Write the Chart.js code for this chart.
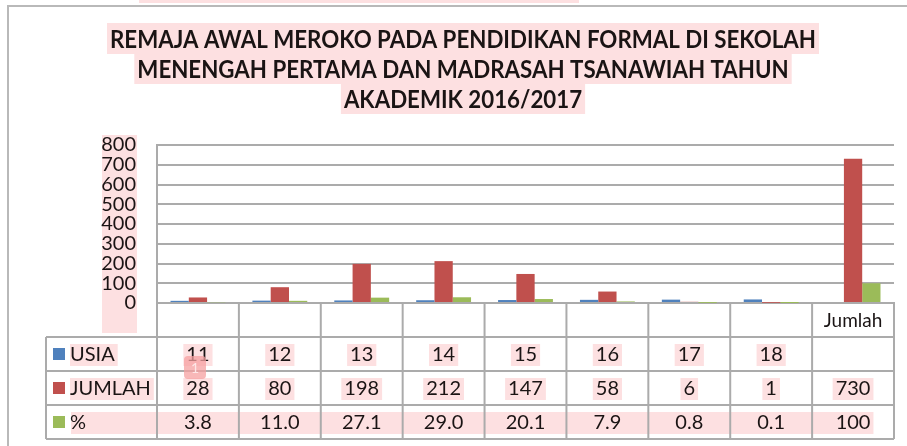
<!DOCTYPE html>
<html>
<head>
<meta charset="utf-8">
<script src="https://cdn.jsdelivr.net/npm/chart.js@4.4.1/dist/chart.umd.min.js"></script>
<style>
  html, body { margin: 0; padding: 0; background: #ffffff; }
  #wrap { width: 907px; height: 446px; position: relative; }
</style>
</head>
<body>
<div id="wrap"><canvas id="c" width="907" height="446"></canvas></div>
<script>
// ---- Data ----
const titleLines = [
  'REMAJA AWAL MEROKO PADA PENDIDIKAN FORMAL DI SEKOLAH',
  'MENENGAH PERTAMA DAN MADRASAH TSANAWIAH TAHUN',
  'AKADEMIK 2016/2017'
];
const categories = ['', '', '', '', '', '', '', '', 'Jumlah'];
const seriesNames = ['USIA', 'JUMLAH', '%'];
const usia = [11, 12, 13, 14, 15, 16, 17, 18, null];
const jumlah = [28, 80, 198, 212, 147, 58, 6, 1, 730];
const persen = [3.8, 11.0, 27.1, 29.0, 20.1, 7.9, 0.8, 0.1, 100];
const persenLabels = ['3.8', '11.0', '27.1', '29.0', '20.1', '7.9', '0.8', '0.1', '100'];
const yMax = 800;
const yStep = 100;

const colors = ['#4f81bd', '#c0504d', '#9bbb59'];
const PINK = '#fde0e1';
const LINE = '#ababab';
const TEXT = '#1a1414';
const FONT = 'Lato, "Open Sans", sans-serif';
const CELL_FONT = '20px ' + FONT;

function fmt(v) { return v === null || v === undefined ? '' : String(v); }

const tableRows = [
  usia.map(fmt),
  jumlah.map(fmt),
  persenLabels
];

const decor = {
  id: 'decor',
  beforeDraw(chart) {
    const ctx = chart.ctx;
    const ca = chart.chartArea;
    ctx.save();
    ctx.fillStyle = '#ffffff';
    ctx.fillRect(0, 0, chart.width, chart.height);
    // top sliver of previous highlighted text
    ctx.fillStyle = PINK;
    ctx.fillRect(139, 0, 440, 3);
    // outer frame
    ctx.strokeStyle = '#b9b9b9';
    ctx.lineWidth = 2;
    ctx.beginPath();
    ctx.moveTo(907, 6);
    ctx.lineTo(8, 6);
    ctx.lineTo(8, 446);
    ctx.stroke();
    // title highlights
    ctx.font = 'bold 24px ' + FONT;
    const w0 = ctx.measureText(titleLines[0]).width;
    const sx = 706 / w0;
    const cx = 463;
    const bases = [48, 78, 108];
    titleLines.forEach((t, i) => {
      const w = ctx.measureText(t).width * sx;
      ctx.fillStyle = PINK;
      ctx.fillRect(cx - w / 2 - 3, bases[i] - 25, w + 6, 31);
    });
    // y tick label highlight column
    ctx.fillStyle = PINK;
    ctx.fillRect(102, ca.top - 10, 35, ca.bottom - ca.top + 40);
    // table text highlights
    const rowsY = rowCenters(chart);
    const x = chart.scales.x;
    ctx.font = CELL_FONT;
    for (let r = 0; r < 2; r++) {
      const w = ctx.measureText(seriesNames[r]).width;
      ctx.fillRect(70, rowsY[r + 1] - 10, w + 3, 22);
    }
    for (let r = 0; r < 2; r++) {
      tableRows[r].forEach((t, i) => {
        if (!t) return;
        const w = ctx.measureText(t).width;
        const px = x.getPixelForValue(i);
        ctx.fillRect(px - w / 2 - 3, rowsY[r + 1] - 10, w + 6, 22);
      });
    }
    const lastW = ctx.measureText(tableRows[2][8]).width;
    const lastX = x.getPixelForValue(8) + lastW / 2 + 3;
    ctx.fillRect(71, rowsY[3] - 10, lastX - 71, 22);
    ctx.restore();
  },
  afterDraw(chart) {
    const ctx = chart.ctx;
    const ca = chart.chartArea;
    const x = chart.scales.x;
    const n = categories.length;
    const cw = (ca.right - ca.left) / n;
    const rowH = 34;
    const top = ca.bottom;
    const rowsY = rowCenters(chart);
    const bottom = top + rowH * 4;
    ctx.save();
    // title
    ctx.font = 'bold 24px ' + FONT;
    const w0 = ctx.measureText(titleLines[0]).width;
    const sx = 706 / w0;
    const bases = [48, 78, 108];
    ctx.fillStyle = TEXT;
    ctx.textAlign = 'center';
    ctx.textBaseline = 'alphabetic';
    titleLines.forEach((t, i) => {
      ctx.save();
      ctx.translate(463, bases[i]);
      ctx.scale(sx, 1);
      ctx.fillText(t, 0, 0);
      ctx.restore();
    });
    // table lines
    ctx.strokeStyle = LINE;
    ctx.lineWidth = 2;
    ctx.beginPath();
    for (let i = 0; i <= n; i++) {
      const lx = ca.left + cw * i;
      ctx.moveTo(lx, top);
      ctx.lineTo(lx, bottom);
    }
    for (let r = 1; r <= 4; r++) {
      const ly = top + rowH * r;
      ctx.moveTo(46, ly);
      ctx.lineTo(ca.right, ly);
    }
    ctx.moveTo(46, top + rowH);
    ctx.lineTo(46, bottom);
    ctx.stroke();
    // header labels
    ctx.fillStyle = TEXT;
    ctx.textBaseline = 'middle';
    ctx.textAlign = 'center';
    ctx.font = '19px ' + FONT;
    categories.forEach((c, i) => {
      if (c) ctx.fillText(c, x.getPixelForValue(i), rowsY[0] + 1);
    });
    // legend keys + names
    ctx.font = CELL_FONT;
    for (let r = 0; r < 3; r++) {
      ctx.fillStyle = colors[r];
      ctx.fillRect(53, rowsY[r + 1] - 6, 12, 12);
      ctx.fillStyle = TEXT;
      ctx.textAlign = 'left';
      ctx.fillText(seriesNames[r], 70, rowsY[r + 1] + 1);
    }
    // values
    ctx.textAlign = 'center';
    for (let r = 0; r < 3; r++) {
      tableRows[r].forEach((t, i) => {
        if (t) ctx.fillText(t, x.getPixelForValue(i), rowsY[r + 1] + 1);
      });
    }
    // comment marker
    ctx.fillStyle = 'rgba(246,160,160,0.75)';
    roundRect(ctx, 184, 356, 22, 23, 4);
    ctx.fill();
    ctx.fillStyle = '#fde7e7';
    ctx.font = '14px ' + FONT;
    ctx.fillText('1', 195, 368);
    ctx.restore();
  }
};

function rowCenters(chart) {
  const top = chart.chartArea.bottom;
  return [top + 17, top + 51, top + 85, top + 119];
}

function roundRect(ctx, x, y, w, h, r) {
  ctx.beginPath();
  ctx.moveTo(x + r, y);
  ctx.lineTo(x + w - r, y);
  ctx.quadraticCurveTo(x + w, y, x + w, y + r);
  ctx.lineTo(x + w, y + h - r);
  ctx.quadraticCurveTo(x + w, y + h, x + w - r, y + h);
  ctx.lineTo(x + r, y + h);
  ctx.quadraticCurveTo(x, y + h, x, y + h - r);
  ctx.lineTo(x, y + r);
  ctx.quadraticCurveTo(x, y, x + r, y);
  ctx.closePath();
}

function build() {
  new Chart(document.getElementById('c'), {
    type: 'bar',
    data: {
      labels: categories,
      datasets: [
        { label: seriesNames[0], data: usia, backgroundColor: colors[0] },
        { label: seriesNames[1], data: jumlah, backgroundColor: colors[1] },
        { label: seriesNames[2], data: persen, backgroundColor: colors[2] }
      ]
    },
    options: {
      responsive: false,
      animation: false,
      events: [],
      layout: { padding: { left: 0, right: 13, top: 145, bottom: 143 } },
      datasets: { bar: { categoryPercentage: 0.67, barPercentage: 1.0, borderWidth: 0 } },
      plugins: { legend: { display: false }, tooltip: { enabled: false }, title: { display: false } },
      scales: {
        x: {
          grid: { display: false },
          ticks: { display: false },
          border: { display: true, color: LINE, width: 2 },
          afterFit(s) { s.height = 0; }
        },
        y: {
          min: 0, max: yMax,
          ticks: { stepSize: yStep, autoSkip: false, color: TEXT, font: { family: FONT, size: 20 }, padding: 21 },
          grid: { color: LINE, lineWidth: 2, drawTicks: false },
          border: { display: true, color: LINE, width: 2 },
          afterFit(s) { s.width = 157; }
        }
      }
    },
    plugins: [decor]
  });
}

const loads = [document.fonts.load('20px Lato'), document.fonts.load('bold 24px Lato')];
Promise.all(loads).then(build, build);
</script>
</body>
</html>
